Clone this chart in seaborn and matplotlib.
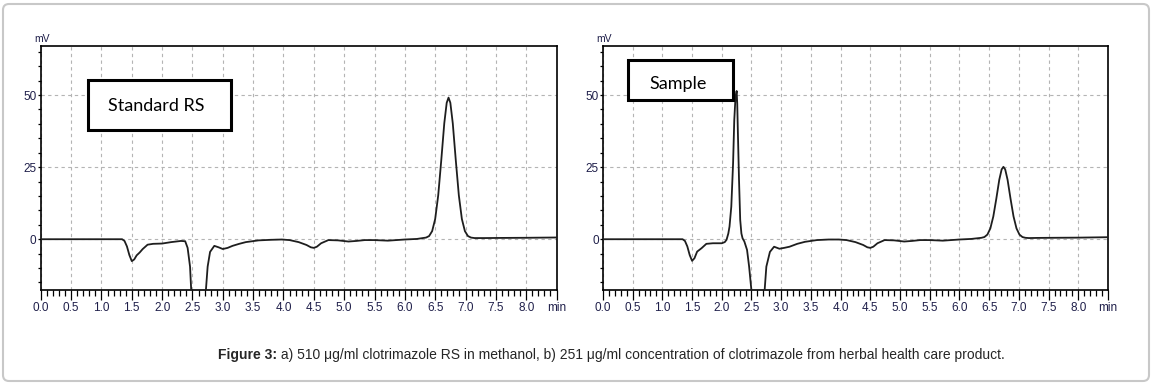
import matplotlib
matplotlib.use('Agg')
import matplotlib.pyplot as plt
import seaborn as sns
from matplotlib.patches import Rectangle, FancyBboxPatch
from matplotlib.ticker import MultipleLocator

# chromatogram a) standard RS (time in min, signal in mV)
std_time = [0.0, 1.0, 1.34, 1.38, 1.42, 1.46, 1.50, 1.54, 1.58, 1.63, 1.68, 1.76, 1.85,
            2.0, 2.15, 2.31, 2.38, 2.42, 2.46, 2.48, 2.52, 2.6, 2.68, 2.72, 2.75, 2.79,
            2.86, 2.93, 3.0, 3.08, 3.16, 3.27, 3.38, 3.59, 3.8, 3.97, 4.1, 4.25, 4.38,
            4.45, 4.5, 4.55, 4.62, 4.74, 4.9, 5.07, 5.2, 5.34, 5.5, 5.72, 6.0, 6.2,
            6.35, 6.40, 6.45, 6.50, 6.55, 6.60, 6.65, 6.69, 6.72, 6.75, 6.79, 6.84,
            6.89, 6.94, 6.99, 7.04, 7.09, 7.15, 7.3, 7.6, 8.0, 8.5]
std_mv = [0.0, 0.0, 0.0, -0.6, -2.5, -5.5, -7.6, -7.0, -5.6, -4.6, -3.4, -1.9, -1.6,
          -1.5, -1.0, -0.6, -0.7, -3.0, -9.5, -18, -35, -45, -35, -18, -9.5, -4.4,
          -2.3, -2.8, -3.4, -3.0, -2.3, -1.6, -1.0, -0.4, -0.2, -0.1, -0.3, -1.0, -2.0,
          -2.8, -3.0, -2.6, -1.4, -0.3, -0.4, -0.8, -0.6, -0.3, -0.3, -0.5, -0.1, 0.1,
          0.57, 1.1, 2.8, 7.0, 15.2, 27.3, 40.2, 47.3, 49.1, 47.3, 40.2, 27.3,
          15.2, 7.0, 2.8, 1.1, 0.57, 0.4, 0.4, 0.45, 0.5, 0.6]

# chromatogram b) sample
smp_time = [0.0, 1.0, 1.34, 1.38, 1.42, 1.46, 1.50, 1.54, 1.585, 1.66, 1.74, 1.85, 2.0,
            2.05, 2.08, 2.11, 2.13, 2.16, 2.19, 2.21, 2.23, 2.25, 2.26, 2.27, 2.29, 2.31,
            2.33, 2.35, 2.38, 2.425, 2.46, 2.50, 2.55, 2.62, 2.68, 2.72, 2.75, 2.81,
            2.88, 2.97, 3.05, 3.14, 3.27, 3.4, 3.6, 3.8, 3.97, 4.1, 4.25, 4.38, 4.45,
            4.5, 4.55, 4.62, 4.74, 4.9, 5.07, 5.2, 5.34, 5.5, 5.72, 6.0, 6.2,
            6.37, 6.42, 6.47, 6.52, 6.57, 6.62, 6.67, 6.71, 6.74, 6.77, 6.81, 6.86,
            6.91, 6.96, 7.01, 7.06, 7.11, 7.17, 7.3, 7.6, 8.0, 8.5]
smp_mv = [0.0, 0.0, 0.0, -0.6, -2.5, -5.5, -7.5, -6.6, -4.3, -3.1, -1.6, -1.4, -1.4,
          -1.0, -0.2, 2.0, 4.4, 11.3, 26.3, 41.3, 49.0, 51.4, 47.0, 37.8, 20.5, 6.7,
          2.0, 0.3, -0.8, -3.7, -9.5, -18, -35, -45, -35, -18, -9.5, -4.4,
          -2.6, -3.3, -3.0, -2.6, -1.6, -0.9, -0.3, -0.1, -0.1, -0.3, -1.0, -2.0, -2.8,
          -3.0, -2.6, -1.4, -0.3, -0.4, -0.8, -0.6, -0.3, -0.3, -0.5, -0.1, 0.1,
          0.49, 0.76, 1.6, 3.75, 7.9, 14.0, 20.6, 24.2, 25.1, 24.2, 20.6, 14.0,
          7.9, 3.75, 1.6, 0.76, 0.49, 0.4, 0.45, 0.5, 0.55, 0.7]

x_ticks = [0.0, 0.5, 1.0, 1.5, 2.0, 2.5, 3.0, 3.5, 4.0, 4.5, 5.0, 5.5, 6.0, 6.5, 7.0, 7.5, 8.0, 8.5]
x_ticklabels = ['0.0', '0.5', '1.0', '1.5', '2.0', '2.5', '3.0', '3.5', '4.0', '4.5',
                '5.0', '5.5', '6.0', '6.5', '7.0', '7.5', '8.0', 'min']
y_ticks = [0, 25, 50]
y_ticklabels = ['0', '25', '50']
panel_labels = ['Standard RS', 'Sample']
caption_bold = 'Figure 3:'
caption_rest = (' a) 510 \u03bcg/ml clotrimazole RS in methanol, b) 251 \u03bcg/ml concentration '
                'of clotrimazole from herbal health care product.')

sns.set_style('ticks')
plt.rcParams['font.family'] = ['Liberation Sans', 'DejaVu Sans']
tick_font = ['Liberation Sans Narrow', 'Liberation Sans', 'DejaVu Sans']
tick_color = '#1f1f4a'

fig = plt.figure(figsize=(11.52, 3.85), dpi=100)

# light rounded frame around the whole figure
fig.patches.append(FancyBboxPatch((0.03, 0.04), 11.46, 3.77,
                                  boxstyle='round,pad=0,rounding_size=0.06',
                                  transform=fig.dpi_scale_trans, fc='none',
                                  ec='#c8c8c8', lw=1.5))

ax1 = fig.add_axes([0.0354, 0.2468, 0.4477, 0.6338])
ax2 = fig.add_axes([0.5234, 0.2468, 0.4384, 0.6338])

panels = [
    (ax1, std_time, std_mv, panel_labels[0], (0.0915, 0.6557, 0.2773, 0.205), (0.2234, 0.735)),
    (ax2, smp_time, smp_mv, panel_labels[1], (0.0495, 0.7787, 0.2079, 0.164), (0.1485, 0.8225)),
]

for ax, t, mv, label, box, txt in panels:
    sns.lineplot(x=t, y=mv, ax=ax, color='#1e1e1e', lw=1.3, sort=False,
                 estimator=None, legend=False, zorder=3)
    ax.set_xlim(0, 8.5)
    ax.set_ylim(-17.6, 67)
    ax.set_xlabel('')
    ax.set_ylabel('')

    ax.set_xticks(x_ticks)
    ax.set_xticklabels(x_ticklabels)
    ax.xaxis.set_minor_locator(MultipleLocator(0.1))
    ax.set_yticks(y_ticks)
    ax.set_yticklabels(y_ticklabels)
    ax.yaxis.set_minor_locator(MultipleLocator(5))
    ax.tick_params(axis='x', which='major', direction='out', length=7, width=0.9, pad=2,
                   colors='black', labelcolor=tick_color, labelsize=8.5)
    ax.tick_params(axis='x', which='minor', direction='out', length=4.5, width=0.9, colors='black')
    ax.tick_params(axis='y', which='both', direction='out', length=2, width=0.9, pad=1,
                   colors='black', labelcolor=tick_color, labelsize=8.5)
    for lbl in ax.get_xticklabels() + ax.get_yticklabels():
        lbl.set_fontfamily(tick_font)

    ax.grid(True, which='major', color='#b4b4b4', linestyle=(0, (3, 3)), lw=0.8)
    ax.set_axisbelow(True)
    for s in ax.spines.values():
        s.set_visible(True)
        s.set_color('black')
        s.set_linewidth(1.2)

    ax.text(0.002, 1.027, 'mV', transform=ax.transAxes, ha='center', va='center',
            fontsize=7.5, color=tick_color, family=tick_font)

    ax.add_patch(Rectangle((box[0], box[1]), box[2], box[3], transform=ax.transAxes,
                           fc='white', ec='black', lw=2.2, zorder=5))
    ax.text(txt[0], txt[1], label, transform=ax.transAxes, ha='center', va='baseline',
            fontsize=13, family=['Lato', 'DejaVu Sans'], color='black', zorder=6)

# caption: bold lead followed by normal text
cap = fig.text(218 / 1152, 0.078, caption_bold, ha='left', va='center',
               fontsize=10, fontweight='bold')
renderer = fig.canvas.get_renderer()
bb = cap.get_window_extent(renderer=renderer)
fig.text(bb.x1 / fig.bbox.width, 0.078, caption_rest, ha='left', va='center', fontsize=10)

fig.savefig('out.png', dpi=100, facecolor='white')
